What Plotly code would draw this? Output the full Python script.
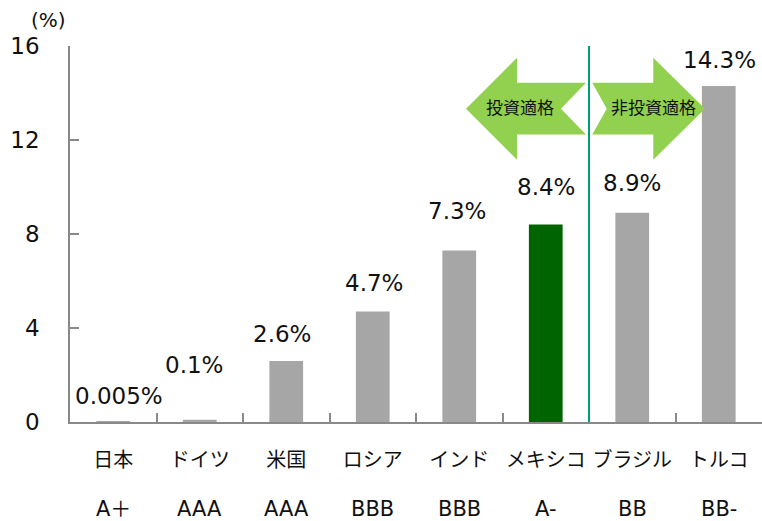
import plotly.graph_objects as go

# ---- data ----
countries = ["日本", "ドイツ", "米国", "ロシア", "インド", "メキシコ", "ブラジル", "トルコ"]
ratings = ["A＋", "AAA", "AAA", "BBB", "BBB", "A-", "BB", "BB-"]
values = [0.005, 0.1, 2.6, 4.7, 7.3, 8.4, 8.9, 14.3]
value_labels = ["0.005%", "0.1%", "2.6%", "4.7%", "7.3%", "8.4%", "8.9%", "14.3%"]
y_ticks = [0, 4, 8, 12, 16]

# ---- styles ----
GRAY = "#A6A6A6"
DARK_GREEN = "#006400"
LIGHT_GREEN = "#92D050"
TEAL = "#009E77"
AXIS = "#898989"
FONT = "DejaVu Sans, Noto Sans CJK JP, sans-serif"
CJK = "Noto Sans CJK JP, sans-serif"
bar_colors = [DARK_GREEN if c == "メキシコ" else GRAY for c in countries]
label_yshift = [26, 55, 27, 29, 39, 38, 30, 26]
label_xshift = [6, -6, -4, 1, -2, 0, 0, 1]

fig = go.Figure()
fig.add_trace(go.Bar(
    x=countries, y=values, width=0.39,
    marker=dict(color=bar_colors, line=dict(width=0)),
    hoverinfo="skip",
))

# value labels
for i, (v, t) in enumerate(zip(values, value_labels)):
    fig.add_annotation(x=i, y=v, text=t, showarrow=False, xref="x", yref="y",
                       yanchor="middle", xanchor="center",
                       yshift=label_yshift[i], xshift=label_xshift[i],
                       font=dict(family=FONT, size=23, color="#111111"))

# rating labels under category names
for i, r in enumerate(ratings):
    fig.add_annotation(x=i, y=0, text=r, showarrow=False, xref="x", yref="y",
                       yanchor="middle", yshift=-87,
                       font=dict(family=FONT, size=21, color="#111111"))

# unit label
fig.add_annotation(x=0, y=1, xref="paper", yref="paper", text="(%)",
                   showarrow=False, xanchor="center", yanchor="middle",
                   xshift=-22, yshift=26,
                   font=dict(family=FONT, size=20, color="#111111"))

# divider line between investment / non-investment grade
fig.add_shape(type="line", xref="x", yref="y", x0=5.5, x1=5.5, y0=0, y1=16.15,
              line=dict(color=TEAL, width=2), layer="above")

# arrows
left_arrow = [(4.078, 13.33), (4.668, 15.50), (4.668, 14.44), (5.465, 14.44),
              (5.176, 13.33), (5.465, 12.23), (4.668, 12.23), (4.668, 11.16)]
right_arrow = [(5.538, 14.44), (6.243, 14.44), (6.243, 15.50), (6.841, 13.33),
               (6.243, 11.16), (6.243, 12.23), (5.538, 12.23), (5.705, 13.33)]


def to_path(pts):
    return "M " + " L ".join(f"{x},{y}" for x, y in pts) + " Z"


for pts in (left_arrow, right_arrow):
    fig.add_shape(type="path", path=to_path(pts), xref="x", yref="y",
                  fillcolor=LIGHT_GREEN, line=dict(width=0), layer="above")

fig.add_annotation(x=4.70, y=13.42, text="投資適格", showarrow=False,
                   font=dict(family=CJK, size=17, color="#111111"))
fig.add_annotation(x=6.24, y=13.42, text="非投資適格", showarrow=False,
                   font=dict(family=CJK, size=17, color="#111111"))

fig.update_layout(
    width=762, height=521,
    margin=dict(l=70, r=0, t=46, b=99),
    paper_bgcolor="white", plot_bgcolor="white",
    showlegend=False, bargap=0.61,
    font=dict(family=FONT, color="#111111"),
)
fig.update_xaxes(
    type="category", range=[-0.5, 7.5], tickson="boundaries",
    ticks="inside", ticklen=9, tickcolor=AXIS, tickwidth=1.5,
    showline=True, linecolor=AXIS, linewidth=1.5, showgrid=False,
    tickfont=dict(family=CJK, size=20, color="#111111"), tickangle=0,
    automargin=False, ticklabelstandoff=19, fixedrange=True,
)
fig.update_yaxes(
    range=[0, 16], tickvals=y_ticks, ticktext=[str(t) for t in y_ticks],
    ticks="inside", ticklen=9, tickcolor=AXIS, tickwidth=1.5,
    showline=True, linecolor=AXIS, linewidth=1.5, showgrid=False, zeroline=False,
    tickfont=dict(family=FONT, size=23, color="#111111"),
    automargin=False, ticklabelstandoff=24, fixedrange=True,
)

fig.write_html(
    "out.html",
    config={"displayModeBar": False},
    post_script="document.body.style.margin='0';document.body.style.overflow='hidden';",
)
